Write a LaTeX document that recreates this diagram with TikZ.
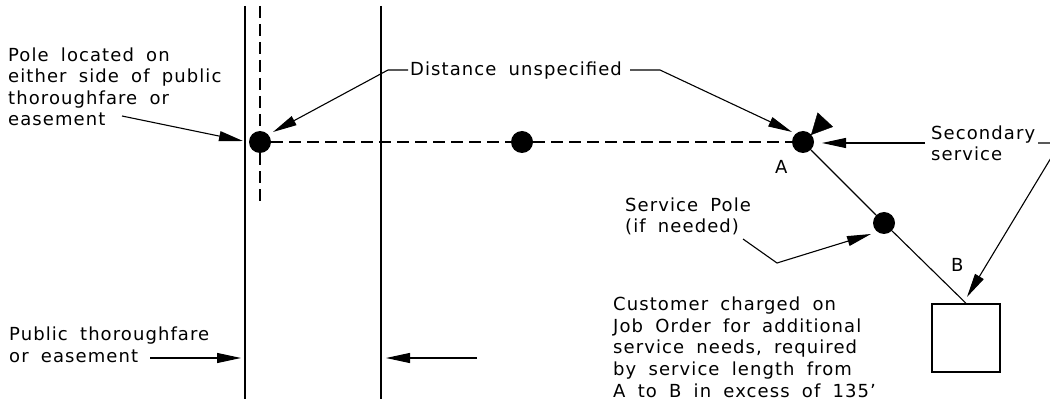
\documentclass[tikz,border=0pt]{standalone}
\usepackage{fontspec}
\setmainfont[LetterSpace=6,WordSpace=1.8]{DejaVu Sans}
\usetikzlibrary{arrows.meta}
\tikzset{>={Triangle[width=10pt,length=24pt]}}
\tikzset{
    pole/.style={circle,fill=black,inner sep=0pt,minimum size=22pt},
    label/.style={inner sep=0pt,anchor=base west,align=left,font=\fontsize{18}{21.6}\selectfont},
    leader/.style={->,line width=1.1pt},
    road/.style={line width=1.6pt},
    run/.style={line width=1.1pt},
    trench/.style={line width=1.6pt,dash pattern=on 12pt off 6pt}
}

\begin{document}
\begin{tikzpicture}[x=1pt,y=-1pt]
    \clip (0,0) rectangle (1050,406);
    % poles
    \node[pole] (poleroad) at (260,142) {};
    \node[pole] (polemid) at (522,142) {};
    \node[pole] (poleA) at (803,142) {};
    \node[pole] (poleservice) at (884,223) {};
    \node[draw,line width=1.4pt,inner sep=0pt,minimum size=68pt] (house) at (966,338) {};

    % labels
    \node[label] (located) at (8,126) {Pole located on\\either side of public\\thoroughfare or\\easement};
    \node[label] (distance) at (410,76) {Distance unspecified};
    \node[label] (secondary) at (931,161) {Secondary\\service};
    \node[label] (servicepole) at (625,233) {Service Pole\\(if needed)};
    \node[label] (customer) at (613,397) {Customer charged on\\Job Order for additional\\service needs, required\\by service length from\\A to B in excess of 135'};
    \node[label] (public) at (9,362) {Public thoroughfare\\or easement};
    \node[label] (A) at (775,174) {A};
    \node[label] (B) at (951,272) {B};

    % free ends of the lines
    \coordinate (roadtopA) at (245,6);
    \coordinate (roadbotA) at (245,399);
    \coordinate (roadtopB) at (381,6);
    \coordinate (roadbotB) at (381,399);
    \coordinate (crosstop) at (260,6);
    \coordinate (crossbot) at (260,201);
    \coordinate (locatedtail) at (122,116);
    \coordinate (locatedtip) at (243,141);
    \coordinate (disttailL) at (408,70);
    \coordinate (distbendL) at (388,70);
    \coordinate (disttailR) at (630,70);
    \coordinate (distbendR) at (660,70);
    \coordinate (disttipL) at (273,132);
    \coordinate (disttipR) at (792,132);
    \coordinate (sectailA) at (925,143);
    \coordinate (sectailB) at (1038,143);
    \coordinate (secbend) at (1060,143);
    \coordinate (sectipA) at (822,143);
    \coordinate (sectipB) at (967,297);
    \coordinate (stubtail) at (825,120);
    \coordinate (stubtip) at (811,135);
    \coordinate (svcbend) at (777,263);
    \coordinate (svctail) at (743,239);
    \coordinate (svctip) at (871,234);
    \coordinate (pubtipL) at (241,358);
    \coordinate (pubtailL) at (150,358);
    \coordinate (pubtipR) at (386,358);
    \coordinate (pubtailR) at (477,358);

    \draw[road] (roadtopA) -- (roadbotA);
    \draw[road] (roadtopB) -- (roadbotB);
    \draw[trench] (crosstop) -- (poleroad) -- (crossbot);
    \draw[trench] (poleroad) -- (polemid) -- (poleA);
    \draw[run] (poleA) -- (poleservice) -- (house.north);

    \draw[leader] (locatedtail) -- (locatedtip);
    \draw[leader] (disttailL) -- (distbendL) -- (disttipL);
    \draw[leader] (disttailR) -- (distbendR) -- (disttipR);
    \draw[leader] (sectailA) -- (sectipA);
    \draw[leader] (sectailB) -- (secbend) -- (sectipB);
    \draw[-{Triangle[width=21pt,length=21pt]}] (stubtail) -- (stubtip);
    \draw[leader] (svctail) -- (svcbend) -- (svctip);
    \draw[leader] (pubtailL) -- (pubtipL);
    \draw[leader] (pubtailR) -- (pubtipR);
\end{tikzpicture}
\end{document}
